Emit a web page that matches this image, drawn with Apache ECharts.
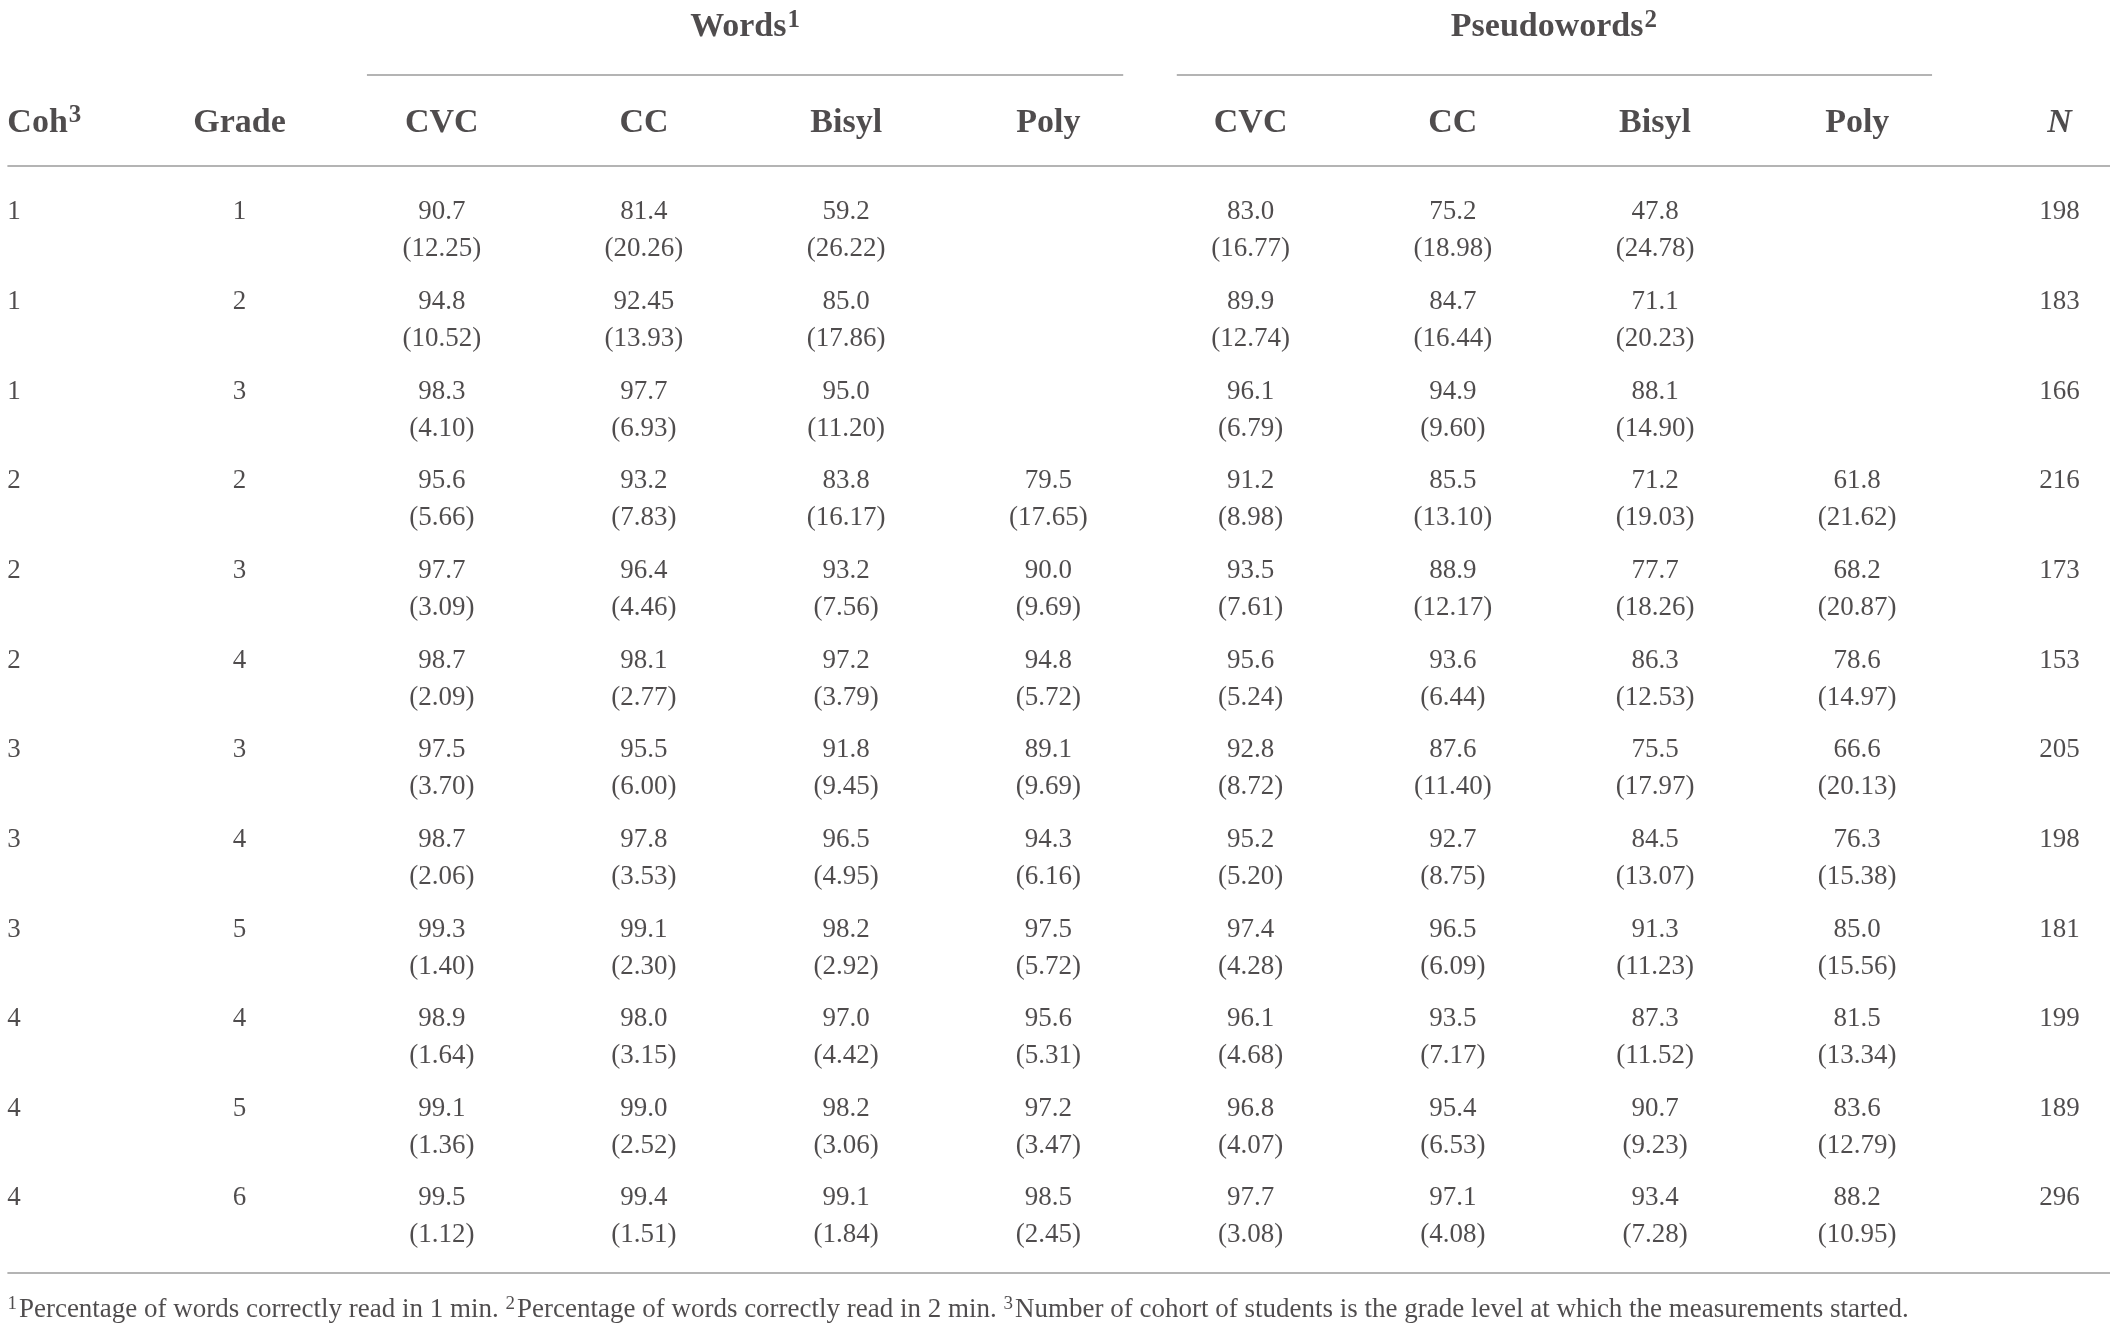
<!DOCTYPE html>
<html>
<head>
<meta charset="utf-8">
<script src="https://cdn.jsdelivr.net/npm/echarts@6/dist/echarts.min.js"></script>
<style>
  html, body { margin: 0; padding: 0; background: #fff; }
  #chart { width: 2117px; height: 1330px; }
</style>
</head>
<body>
<div id="chart"></div>
<script>
// table content
var headers = ["Coh", "Grade", "CVC", "CC", "Bisyl", "Poly", "CVC", "CC", "Bisyl", "Poly", "N"];
var headerNotes = ["3", "", "", "", "", "", "", "", "", "", ""];
var groups = ["Words", "Pseudowords"];
var groupNotes = ["1", "2"];
var cohort = [1, 1, 1, 2, 2, 2, 3, 3, 3, 4, 4, 4];
var grade = [1, 2, 3, 2, 3, 4, 3, 4, 5, 4, 5, 6];
var nStudents = [198, 183, 166, 216, 173, 153, 205, 198, 181, 199, 189, 296];

var wordsCVC = ["90.7", "94.8", "98.3", "95.6", "97.7", "98.7", "97.5", "98.7", "99.3", "98.9", "99.1", "99.5"];
var wordsCVCsd = ["12.25", "10.52", "4.10", "5.66", "3.09", "2.09", "3.70", "2.06", "1.40", "1.64", "1.36", "1.12"];
var wordsCC = ["81.4", "92.45", "97.7", "93.2", "96.4", "98.1", "95.5", "97.8", "99.1", "98.0", "99.0", "99.4"];
var wordsCCsd = ["20.26", "13.93", "6.93", "7.83", "4.46", "2.77", "6.00", "3.53", "2.30", "3.15", "2.52", "1.51"];
var wordsBisyl = ["59.2", "85.0", "95.0", "83.8", "93.2", "97.2", "91.8", "96.5", "98.2", "97.0", "98.2", "99.1"];
var wordsBisylSd = ["26.22", "17.86", "11.20", "16.17", "7.56", "3.79", "9.45", "4.95", "2.92", "4.42", "3.06", "1.84"];
var wordsPoly = [null, null, null, "79.5", "90.0", "94.8", "89.1", "94.3", "97.5", "95.6", "97.2", "98.5"];
var wordsPolySd = [null, null, null, "17.65", "9.69", "5.72", "9.69", "6.16", "5.72", "5.31", "3.47", "2.45"];

var pseudoCVC = ["83.0", "89.9", "96.1", "91.2", "93.5", "95.6", "92.8", "95.2", "97.4", "96.1", "96.8", "97.7"];
var pseudoCVCsd = ["16.77", "12.74", "6.79", "8.98", "7.61", "5.24", "8.72", "5.20", "4.28", "4.68", "4.07", "3.08"];
var pseudoCC = ["75.2", "84.7", "94.9", "85.5", "88.9", "93.6", "87.6", "92.7", "96.5", "93.5", "95.4", "97.1"];
var pseudoCCsd = ["18.98", "16.44", "9.60", "13.10", "12.17", "6.44", "11.40", "8.75", "6.09", "7.17", "6.53", "4.08"];
var pseudoBisyl = ["47.8", "71.1", "88.1", "71.2", "77.7", "86.3", "75.5", "84.5", "91.3", "87.3", "90.7", "93.4"];
var pseudoBisylSd = ["24.78", "20.23", "14.90", "19.03", "18.26", "12.53", "17.97", "13.07", "11.23", "11.52", "9.23", "7.28"];
var pseudoPoly = [null, null, null, "61.8", "68.2", "78.6", "66.6", "76.3", "85.0", "81.5", "83.6", "88.2"];
var pseudoPolySd = [null, null, null, "21.62", "20.87", "14.97", "20.13", "15.38", "15.56", "13.34", "12.79", "10.95"];

var footNotes = [
  ["1", "Percentage of words correctly read in 1 min. "],
  ["2", "Percentage of words correctly read in 2 min. "],
  ["3", "Number of cohort of students is the grade level at which the measurements started."]
];

var meanCols = [wordsCVC, wordsCC, wordsBisyl, wordsPoly, pseudoCVC, pseudoCC, pseudoBisyl, pseudoPoly];
var sdCols = [wordsCVCsd, wordsCCsd, wordsBisylSd, wordsPolySd, pseudoCVCsd, pseudoCCsd, pseudoBisylSd, pseudoPolySd];

var ink = "#231f20";
var ruleColor = "#b4b4b4";
var serif = "Liberation Serif";

// rows sit at y = 0..11, header row and rules above/below
var headerY = -1.204, groupY = -2.26, groupRuleY = -1.717, headRuleY = -0.702, bottomRuleY = 11.65, footY = 12.04;

var cohData = [], meanData = [], sdData = [];
cohort.forEach(function (c, r) {
  cohData.push([0, r, String(c)]);
  meanData.push([1, r, String(grade[r])]);
  meanCols.forEach(function (col, i) {
    if (col[r] !== null) {
      meanData.push([i + 2, r, col[r]]);
      sdData.push([i + 2, r, "(" + sdCols[i][r] + ")"]);
    }
  });
  meanData.push([10, r, String(nStudents[r])]);
});

function withNote(style, text, note) {
  return "{" + style + "|" + text + "}" + (note ? "{sup|" + note + "}" : "");
}

var headData = headers.map(function (h, i) {
  var item = { value: [i, headerY, withNote(i === 10 ? "it" : "b", h, headerNotes[i])] };
  if (i === 0) item.label = { align: "left", offset: [-30, 3] };
  return item;
});

var groupData = groups.map(function (g, i) { return [3.5 + 4 * i, groupY, withNote("b", g, groupNotes[i])]; });

var footText = footNotes.map(function (f) { return "{fsup|" + f[0] + "}{f|" + f[1] + "}"; }).join("");

var boldRich = {
  b: { fontFamily: serif, fontSize: 34, fontWeight: "bold", color: ink, lineHeight: 40 },
  it: { fontFamily: serif, fontSize: 34, fontWeight: "bold", fontStyle: "italic", color: ink, lineHeight: 40 },
  sup: { fontFamily: serif, fontSize: 25, fontWeight: "bold", color: ink, verticalAlign: "top", lineHeight: 22, padding: [0, 0, 0, 1] }
};

function textSeries(name, data, label) {
  return {
    name: name,
    type: "scatter",
    data: data,
    symbolSize: 0,
    silent: true,
    clip: false,
    label: Object.assign({
      show: true,
      position: "inside",
      color: ink,
      fontFamily: serif,
      fontSize: 27,
      formatter: function (p) { return p.value[2]; }
    }, label)
  };
}

var option = {
  animation: false,
  backgroundColor: "#ffffff",
  grid: { left: 7, right: 7, top: 22, bottom: 17 },
  xAxis: { type: "value", min: -0.15, max: 10.25, show: false },
  yAxis: { type: "value", min: -2.3, max: 12.1, inverse: true, show: false },
  series: [
    textSeries("coh", cohData, { align: "left", offset: [-30, -16] }),
    textSeries("mean", meanData, { offset: [0, -16] }),
    textSeries("sd", sdData, { offset: [0, 21] }),
    textSeries("header", headData, { offset: [0, 3], rich: boldRich }),
    Object.assign(textSeries("groups", groupData, { offset: [0, 2], rich: boldRich }), {
      markLine: {
        silent: true,
        symbol: ["none", "none"],
        label: { show: false },
        lineStyle: { color: ruleColor, width: 2, type: "solid" },
        data: [
          [{ coord: [1.63, groupRuleY] }, { coord: [5.37, groupRuleY] }],
          [{ coord: [5.635, groupRuleY] }, { coord: [9.37, groupRuleY] }],
          [{ coord: [-0.148, headRuleY] }, { coord: [10.25, headRuleY] }],
          [{ coord: [-0.148, bottomRuleY] }, { coord: [10.25, bottomRuleY] }]
        ]
      }
    }),
    textSeries("footnote", [[-0.148, footY, footText]], {
      align: "left",
      offset: [0, 2],
      rich: {
        f: { fontFamily: serif, fontSize: 27, color: ink, lineHeight: 30 },
        fsup: { fontFamily: serif, fontSize: 19, color: ink, verticalAlign: "top", lineHeight: 18, padding: [0, 2, 0, 0] }
      }
    })
  ]
};

var myChart = echarts.init(document.getElementById("chart"));
myChart.setOption(option);
</script>
</body>
</html>
